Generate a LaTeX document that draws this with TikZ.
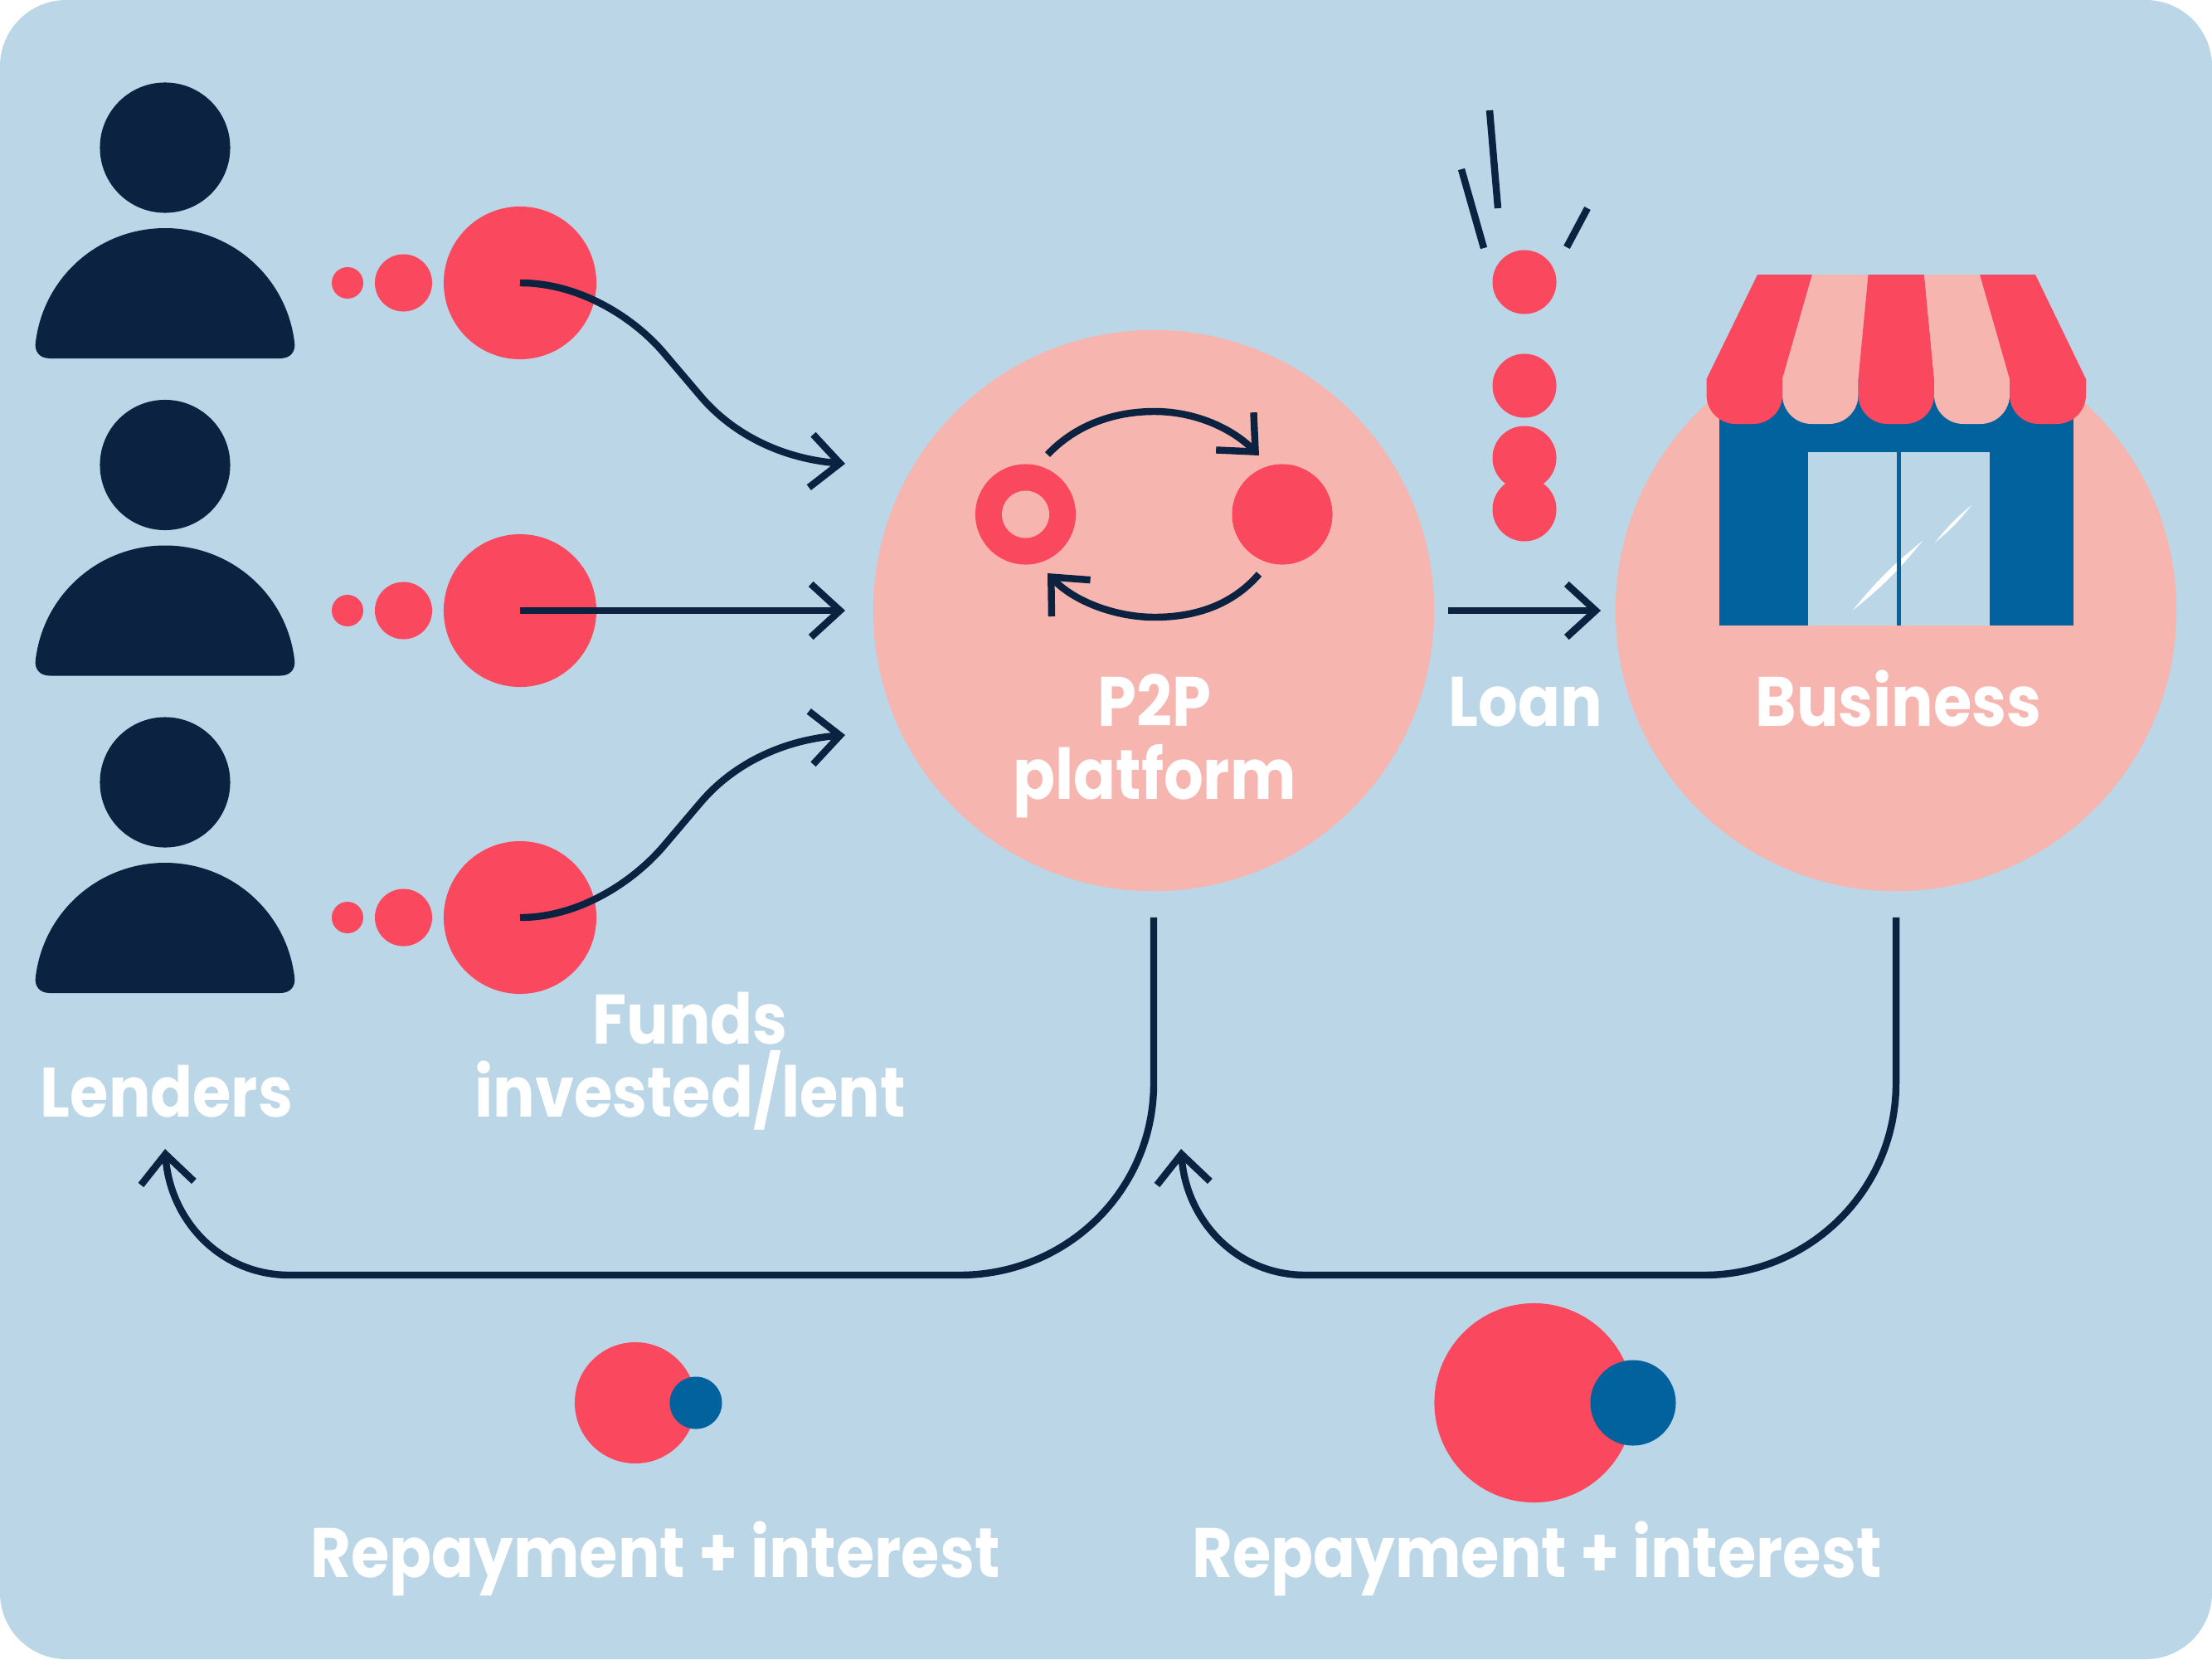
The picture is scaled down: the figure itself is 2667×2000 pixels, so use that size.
\documentclass[tikz,border=0pt]{standalone}
\usepackage{fontspec}
\setmainfont{Poppins}[BoldFeatures={FakeStretch=0.89}]
\usepackage{xcolor}
\usepackage{tikz}
\usetikzlibrary{arrows.meta}
\definecolor{bgblue}{HTML}{BBD6E7}
\definecolor{rosy}{HTML}{F6B5AF}
\definecolor{coral}{HTML}{FA495E}
\definecolor{inkblue}{HTML}{0B2340}
\definecolor{shopblue}{HTML}{02629E}
\tikzset{
  x=0.01cm,y=-0.01cm,
  disc/.style={circle,fill=#1,inner sep=0pt,draw=none},
  arr/.style={line width=2.4pt,draw=inkblue,-{Straight Barb[length=3.5mm,width=6.4mm]}},
  tick/.style={line width=2.4pt,draw=inkblue},
  lab/.style={text=white,font=\bfseries\fontsize{24}{25}\selectfont,anchor=base,align=center,inner sep=0pt}
}
\newcommand{\lender}[2]{
  \begin{scope}[shift={(0,#2)}]
  \node[disc=inkblue,minimum size=1.57cm] (head#1) at (199,178) {};
  \fill[inkblue] (43,412) .. controls (53,333) and (120,275) .. (199,275) .. controls (278,275) and (345,333) .. (355,412) .. controls (357,424) and (350,432) .. (338,432) -- (60,432) .. controls (48,432) and (41,424) .. (43,412) -- cycle;
  \end{scope}
}
\newcommand{\funds}[2]{
  \node[disc=coral,minimum size=0.38cm] (small#1) at (419,#2) {};
  \node[disc=coral,minimum size=0.69cm] (mid#1) at (486.5,#2) {};
  \node[disc=coral,minimum size=1.84cm] (big#1) at (627,#2) {};
}
\newcommand{\stripe}[5]{
  \fill[#1] (#2,331) -- (#3,331) -- (#5,457) [rounded corners=3.5mm] -- (#5,511) -- (#4,511) [sharp corners] -- (#4,457) -- cycle;
}

\begin{document}
\begin{tikzpicture}
\useasboundingbox (0,0) rectangle (2667,2000);
\fill[white] (0,0) rectangle (2667,2000);
\fill[bgblue,rounded corners=0.8cm] (0,0) rectangle (2667,2000);
\lender{A}{0} \lender{B}{382.5} \lender{C}{765}
\funds{A}{341} \funds{B}{736} \funds{C}{1106}
\node[disc=rosy,minimum size=6.76cm] (p2p) at (1391,736) {};
\node[disc=rosy,minimum size=6.76cm] (biz) at (2286,736) {};
% funds going in
\coordinate (tipA) at (1019,559); \coordinate (tipB) at (1019,736); \coordinate (tipC) at (1019,886);
\draw[arr] (bigA.center) .. controls (700,341) and (765,384) .. (800,425) -- (845,478) .. controls (885,525) and (945,553) .. (tipA);
\draw[arr] (bigB.center) -- (tipB);
\draw[arr] (bigC.center) .. controls (700,1106) and (765,1061) .. (800,1020) -- (845,967) .. controls (885,920) and (945,892) .. (tipC);
% platform
\node[disc=coral,minimum size=1.21cm] (ring) at (1236.5,620) {};
\node[disc=rosy,minimum size=0.57cm] (hole) at (ring) {};
\node[disc=coral,minimum size=1.21cm] (solid) at (1546,620) {};
\coordinate (cycA) at (1263,548); \coordinate (cycB) at (1518,549);
\coordinate (cycC) at (1518,692); \coordinate (cycD) at (1263,691);
\draw[arr] (cycA) .. controls (1298,511) and (1345,496) .. (1392,496) .. controls (1442,496) and (1486,517) .. (cycB);
\draw[arr] (cycC) .. controls (1486,729) and (1442,744) .. (1392,744) .. controls (1345,744) and (1295,725) .. (cycD);
\node[lab] (lblp2p) at (1392,963) {P2P\\platform};
% loan
\draw[tick] (1796,133) -- (1806,251);
\draw[tick] (1762,204) -- (1789,299);
\draw[tick] (1914,251) -- (1889,298);
\node[disc=coral,minimum size=0.77cm] (coinA) at (1838,340) {};
\node[disc=coral,minimum size=0.77cm] (coinB) at (1838,465) {};
\node[disc=coral,minimum size=0.77cm] (coinC) at (1838,552) {};
\node[disc=coral,minimum size=0.77cm] (coinD) at (1838,614) {};
\draw[arr,shorten <=1.6mm,shorten >=1.7mm] (p2p.east) -- (biz.west);
\node[lab] (lblloan) at (1839.5,875) {Loan};
% shop
\fill[shopblue] (2073,457) rectangle (2500,754);
\fill[bgblue] (2180,545) rectangle (2399,754);
\fill[white] (2233.5,736) to[bend left=6] (2318,652) to[bend left=6] cycle;
\fill[white] (2333,654) to[bend left=6] (2377,609) to[bend left=6] cycle;
\fill[shopblue] (2287,545) rectangle (2291.5,754);
\stripe{coral}{2119}{2185}{2057.5}{2149}
\stripe{rosy}{2185}{2252.5}{2149}{2240.5}
\stripe{coral}{2252.5}{2320}{2240.5}{2332}
\stripe{rosy}{2320}{2387}{2332}{2423}
\stripe{coral}{2387}{2454}{2423}{2515}
\node[lab] (lblbiz) at (2289,875) {Business};
% repayments
\coordinate (backA) at (199,1385); \coordinate (backB) at (1424,1385);
\draw[arr,shorten <=3.1mm] (p2p.south) -- (1391,1306) .. controls (1391,1435) and (1286,1537) .. (1157,1537) -- (349,1537) .. controls (265,1537) and (205,1470) .. (backA);
\draw[arr,shorten <=3.1mm] (biz.south) -- (2286,1306) .. controls (2286,1435) and (2181,1537) .. (2055,1537) -- (1574,1537) .. controls (1490,1537) and (1430,1470) .. (backB);
\node[lab] (lblfunds) at (832,1346) {Funds\\invested/lent};
\node[lab] (lbllend) at (201,1346) {Lenders};
\node[disc=coral,minimum size=1.46cm] (payA) at (766,1691) {};
\node[disc=shopblue,minimum size=0.63cm] (intA) at (839,1691) {};
\node[disc=coral,minimum size=2.4cm] (payB) at (1849.5,1691) {};
\node[disc=shopblue,minimum size=1.03cm] (intB) at (1969,1691) {};
\node[lab] (lblpayA) at (790,1901) {Repayment + interest};
\node[lab] (lblpayB) at (1853,1901) {Repayment + interest};
\end{tikzpicture}
\end{document}
